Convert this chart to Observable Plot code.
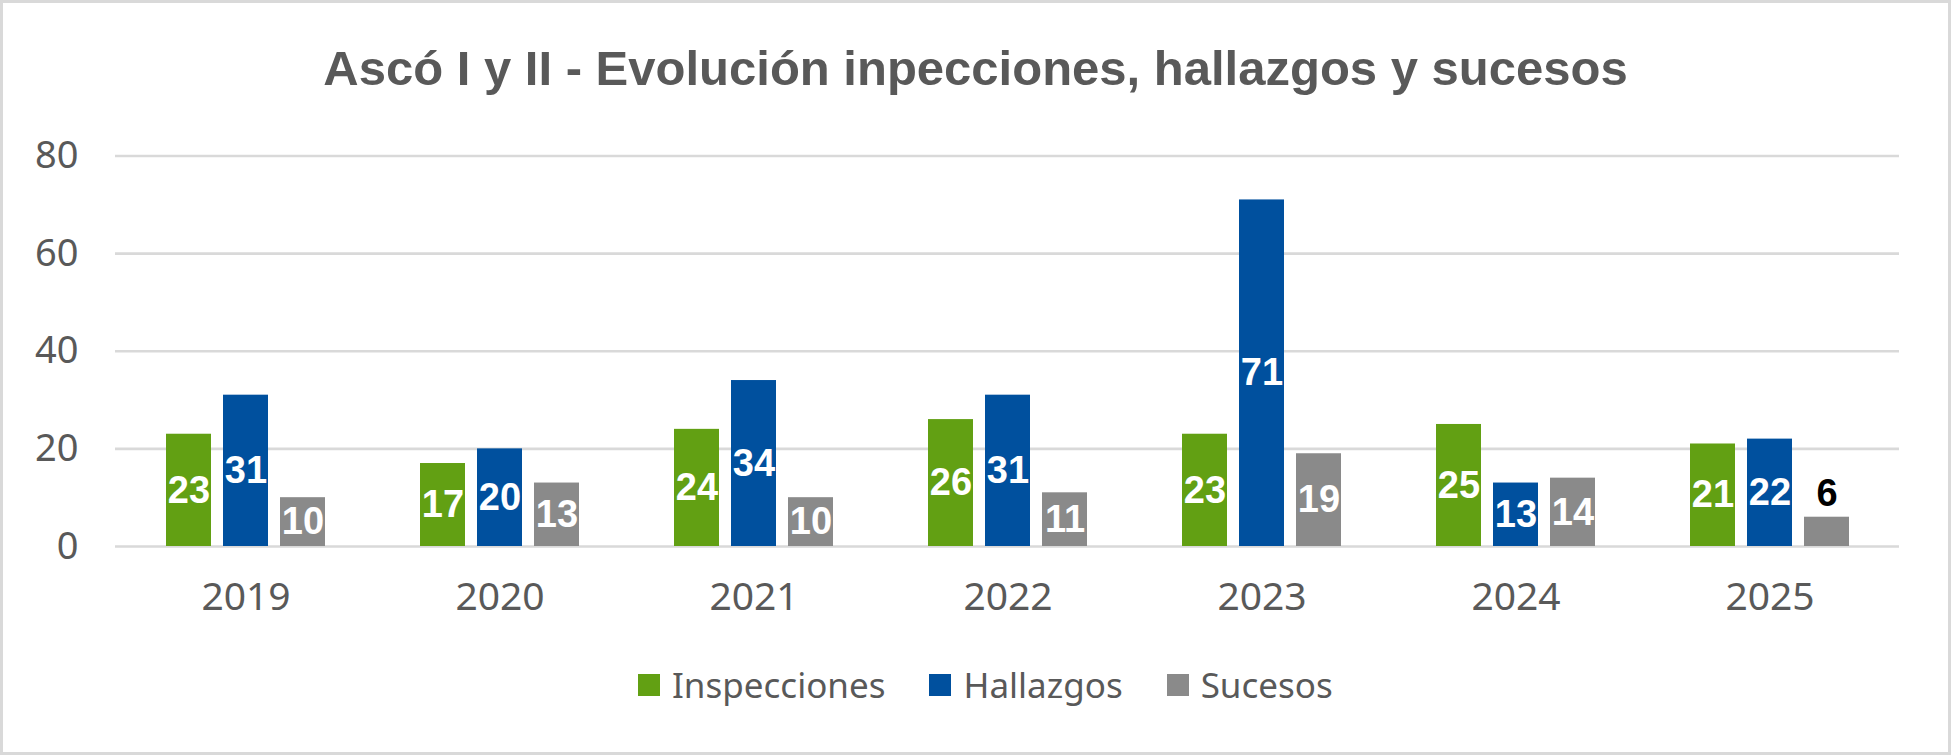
<!DOCTYPE html>
<html>
<head>
<meta charset="utf-8">
<script src="https://cdn.jsdelivr.net/npm/d3@7"></script>
<script src="https://cdn.jsdelivr.net/npm/@observablehq/plot@0.6"></script>
<style>
  html, body { margin: 0; padding: 0; background: white; }
  #wrap { position: relative; width: 1951px; height: 755px; overflow: hidden; background: white; }
  #wrap > .layer { position: absolute; left: 0; top: 0; }
  #title { position: absolute; left: 0; width: 1951px; top: 44px; text-align: center;
    font-family: "Liberation Sans", sans-serif; font-weight: bold;
    font-size: 49px; color: #595959; line-height: 1; white-space: nowrap; }
  #legend { position: absolute; left: 638px; top: 661px; display: flex; align-items: center;
    font-family: "Noto Sans", sans-serif; font-size: 35px; color: #595959; white-space: nowrap; }
  #legend .item { display: flex; align-items: center; margin-right: 44px; }
  #legend .sw { width: 22px; height: 22px; margin-right: 12px; }
  #border { position: absolute; left: 0; top: 0; width: 1951px; height: 755px; box-sizing: border-box;
    border: 3px solid #d9d9d9; pointer-events: none; }
</style>
</head>
<body>
<div id="wrap"></div>
<script>
const years = ["2019", "2020", "2021", "2022", "2023", "2024", "2025"];
const series = ["Inspecciones", "Hallazgos", "Sucesos"];
const inspecciones = [23, 17, 24, 26, 23, 25, 21];
const hallazgos = [31, 20, 34, 31, 71, 13, 22];
const sucesos = [10, 13, 10, 11, 19, 14, 6];
const colors = ["#62A013", "#00509E", "#8A8A8A"];
const yTicks = [0, 20, 40, 60, 80];
const title = "Ascó I y II - Evolución inpecciones, hallazgos y sucesos";

const data = years.flatMap((year, i) => [
  {year, serie: series[0], v: inspecciones[i]},
  {year, serie: series[1], v: hallazgos[i]},
  {year, serie: series[2], v: sucesos[i]}
]);

const W = 1951, H = 755;
const margins = {marginLeft: 115, marginRight: 52, marginTop: 155.5, marginBottom: 209};
const font = {fontFamily: "Noto Sans, sans-serif", background: "transparent", color: "#595959"};

const wrap = document.getElementById("wrap");

// Background layer: gridlines and y axis
const bg = Plot.plot({
  width: W, height: H, ...margins,
  style: {...font, fontSize: "38px"},
  x: {axis: null, domain: [0, 1]},
  y: {domain: [0, 80], ticks: yTicks, label: null, tickSize: 0, tickPadding: 37},
  marks: [
    Plot.ruleY(yTicks, {stroke: "#d9d9d9", strokeWidth: 2.7})
  ]
});
bg.classList.add("layer");
wrap.appendChild(bg);

// Foreground layer: grouped bars via facets
const fg = Plot.plot({
  width: W, height: H, ...margins,
  style: {...font, fontSize: "39px"},
  fx: {domain: years, paddingInner: 0.28, paddingOuter: 0.14, label: null, tickSize: 0, tickPadding: 36, axis: "bottom"},
  x: {domain: series, padding: 0.21, axis: null},
  y: {domain: [0, 80], axis: null},
  color: {domain: series, range: colors},
  marks: [
    Plot.barY(data, {fx: "year", x: "serie", y: "v", fill: "serie"}),
    Plot.text(data, {fx: "year", x: "serie", y: d => d.v / 2, text: "v", fill: "white",
      filter: d => d.v >= 10, fontSize: 38, fontWeight: "bold", fontFamily: "Liberation Sans, sans-serif"}),
    Plot.text(data, {fx: "year", x: "serie", y: "v", text: "v", fill: "black", dy: -23,
      filter: d => d.v < 10, fontSize: 38, fontWeight: "bold", fontFamily: "Liberation Sans, sans-serif"})
  ]
});
fg.classList.add("layer");
wrap.appendChild(fg);

const t = document.createElement("div");
t.id = "title";
t.textContent = title;
wrap.appendChild(t);

const lg = document.createElement("div");
lg.id = "legend";
series.forEach((s, i) => {
  const it = document.createElement("div");
  it.className = "item";
  const sw = document.createElement("div");
  sw.className = "sw";
  sw.style.background = colors[i];
  const tx = document.createElement("span");
  tx.textContent = s;
  it.appendChild(sw);
  it.appendChild(tx);
  lg.appendChild(it);
});
wrap.appendChild(lg);

const b = document.createElement("div");
b.id = "border";
wrap.appendChild(b);
</script>
</body>
</html>
